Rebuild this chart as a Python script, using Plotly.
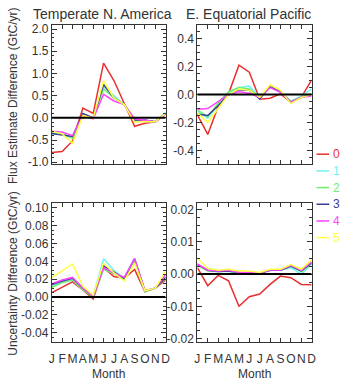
import plotly.graph_objects as go

months = list(range(1, 13))
month_labels = ["J", "F", "M", "A", "M", "J", "J", "A", "S", "O", "N", "D"]
series_names = ["0", "1", "2", "3", "4", "5"]
colors = ["#e8302e", "#70f4f4", "#70ee70", "#3c3c96", "#ff44ff", "#ffff44"]

# Top-left: Temperate N. America, flux estimate difference
na_flux = {
    "0": [-0.78, -0.76, -0.52, 0.22, 0.10, 1.23, 0.84, 0.33, -0.19, -0.12, -0.09, 0.10],
    "1": [-0.36, -0.37, -0.45, 0.07, 0.00, 0.70, 0.50, 0.30, -0.05, -0.06, -0.09, 0.12],
    "2": [-0.34, -0.36, -0.46, 0.09, 0.00, 0.65, 0.45, 0.30, -0.06, -0.07, -0.09, 0.10],
    "3": [-0.35, -0.38, -0.42, 0.10, 0.00, 0.75, 0.45, 0.30, -0.05, -0.05, -0.09, 0.10],
    "4": [-0.30, -0.32, -0.40, 0.05, -0.02, 0.53, 0.38, 0.30, -0.02, -0.05, -0.09, 0.08],
    "5": [-0.30, -0.36, -0.57, 0.05, 0.00, 0.83, 0.45, 0.30, -0.10, -0.08, -0.09, 0.10],
}
# Top-right: E. Equatorial Pacific, flux estimate difference
ep_flux = {
    "0": [-0.145, -0.285, -0.085, 0.005, 0.21, 0.16, -0.033, -0.026, 0.005, -0.055, -0.02, 0.104],
    "1": [-0.12, -0.17, -0.07, 0.01, 0.05, 0.06, -0.02, 0.06, 0.02, -0.05, -0.01, 0.04],
    "2": [-0.11, -0.16, -0.06, 0.02, 0.05, 0.04, -0.02, 0.06, 0.02, -0.05, -0.02, 0.01],
    "3": [-0.14, -0.15, -0.08, 0.00, 0.035, 0.03, -0.03, 0.055, 0.02, -0.055, -0.02, 0.00],
    "4": [-0.105, -0.10, -0.05, 0.00, 0.02, 0.01, -0.02, 0.05, 0.015, -0.055, -0.02, -0.01],
    "5": [-0.13, -0.20, -0.10, 0.00, 0.04, 0.03, -0.02, 0.07, 0.03, -0.065, -0.02, 0.00],
}
# Bottom-left: Temperate N. America, uncertainty difference
na_unc = {
    "0": [0.005, 0.011, 0.017, 0.008, -0.002, 0.033, 0.023, 0.021, 0.031, 0.006, 0.010, 0.019],
    "1": [0.013, 0.017, 0.020, 0.009, 0.001, 0.043, 0.030, 0.021, 0.040, 0.006, 0.010, 0.022],
    "2": [0.011, 0.016, 0.019, 0.008, 0.000, 0.031, 0.026, 0.020, 0.040, 0.006, 0.010, 0.021],
    "3": [0.014, 0.018, 0.021, 0.010, 0.001, 0.035, 0.028, 0.021, 0.043, 0.007, 0.010, 0.022],
    "4": [0.015, 0.019, 0.022, 0.010, 0.001, 0.033, 0.027, 0.022, 0.043, 0.007, 0.010, 0.025],
    "5": [0.022, 0.030, 0.037, 0.012, 0.002, 0.038, 0.027, 0.018, 0.038, 0.007, 0.010, 0.029],
}
# Bottom-right: E. Equatorial Pacific, uncertainty difference
ep_unc = {
    "0": [0.0020, -0.0036, -0.0004, -0.0021, -0.0100, -0.0070, -0.0062, -0.0032, -0.0006, -0.0011, -0.0032, -0.0033],
    "1": [0.0030, 0.0010, 0.0008, 0.0008, 0.0000, 0.0000, 0.0002, 0.0012, 0.0012, 0.0020, 0.0000, 0.0030],
    "2": [0.0028, 0.0010, 0.0008, 0.0010, 0.0003, 0.0003, 0.0002, 0.0012, 0.0012, 0.0025, 0.0008, 0.0032],
    "3": [0.0030, 0.0012, 0.0008, 0.0010, 0.0005, 0.0005, 0.0003, 0.0012, 0.0012, 0.0025, 0.0010, 0.0035],
    "4": [0.0032, 0.0012, 0.0010, 0.0012, 0.0005, 0.0006, 0.0003, 0.0013, 0.0013, 0.0027, 0.0012, 0.0038],
    "5": [0.0050, 0.0018, 0.0012, 0.0015, 0.0010, 0.0010, 0.0005, 0.0015, 0.0015, 0.0030, 0.0015, 0.0045],
}

titles = ["Temperate N. America", "E. Equatorial Pacific"]
ytitles = ["Flux Estimate Difference (GtC/yr)", "Uncertainty Difference (GtC/yr)"]
xtitle = "Month"

y1_ticks = [-1.0, -0.5, 0.0, 0.5, 1.0, 1.5, 2.0]
y1_text = ["-1.0", "-0.5", "0.0", "0.5", "1.0", "1.5", "2.0"]
y2_ticks = [-0.4, -0.2, 0.0, 0.2, 0.4]
y2_text = ["-0.4", "-0.2", "0.0", "0.2", "0.4"]
y3_ticks = [-0.04, -0.02, 0.0, 0.02, 0.04, 0.06, 0.08, 0.10]
y3_text = ["-0.04", "-0.02", "0.00", "0.02", "0.04", "0.06", "0.08", "0.10"]
y4_ticks = [-0.02, -0.01, 0.0, 0.01, 0.02]
y4_text = ["-0.02", "-0.01", "0.00", "0.01", "0.02"]

W, H = 344, 386
def px_x(a, b):
    return [a / W, b / W]
def px_y(top, bottom):
    return [1 - bottom / H, 1 - top / H]

fig = go.Figure()

panels = [
    (na_flux, "x", "y"),
    (ep_flux, "x2", "y2"),
    (na_unc, "x3", "y3"),
    (ep_unc, "x4", "y4"),
]
for data, xa, ya in panels:
    for name, col in zip(series_names, colors):
        fig.add_trace(go.Scatter(x=months, y=data[name], mode="lines",
                                 line=dict(color=col, width=1.5),
                                 xaxis=xa, yaxis=ya, showlegend=False,
                                 hoverinfo="skip"))

# zero lines
for xa, ya in [("x", "y"), ("x2", "y2"), ("x3", "y3"), ("x4", "y4")]:
    fig.add_shape(type="line", xref=xa, yref=ya, x0=1, x1=12, y0=0, y1=0,
                  line=dict(color="black", width=2), layer="above")

axcol = "#333333"
FONT = "Liberation Sans, Arial, sans-serif"
tickfont = dict(family=FONT, size=12, color="#333333")
xtickfont = dict(family=FONT, size=12, color="#333333")

def xaxis(domain, anchor, labels):
    d = dict(domain=domain, anchor=anchor, range=[1, 12],
             tickvals=months, ticktext=month_labels if labels else [""] * 12,
             ticks="inside", ticklen=4, tickcolor=axcol, mirror="ticks",
             showline=True, linecolor=axcol, linewidth=1, showgrid=False,
             zeroline=False, tickfont=xtickfont, tickangle=0)
    if labels:
        d["ticklabelstandoff"] = 6
    return d

def yaxis(domain, anchor, rng, tv, tt, minor):
    return dict(domain=domain, anchor=anchor, range=rng, tickvals=tv, ticktext=tt,
                ticks="inside", ticklen=5, tickcolor=axcol, mirror="ticks",
                showline=True, linecolor=axcol, linewidth=1, showgrid=False,
                zeroline=False, tickfont=tickfont,
                minor=dict(ticks="inside", ticklen=2.5, tickcolor=axcol, dtick=minor, showgrid=False))

dx1 = px_x(50, 166.5)
dx2 = px_x(199, 316)
dyt = px_y(23, 165.5)
dyb = px_y(205, 346)

fig.update_layout(
    width=W, height=H, margin=dict(l=0, r=0, t=0, b=0),
    paper_bgcolor="white", plot_bgcolor="white",
    xaxis=xaxis(dx1, "y", False),
    xaxis2=xaxis(dx2, "y2", False),
    xaxis3=xaxis(dx1, "y3", True),
    xaxis4=xaxis(dx2, "y4", True),
    yaxis=yaxis(dyt, "x", [-1.05, 2.1], y1_ticks, y1_text, 0.1),
    yaxis2=yaxis(dyt, "x2", [-0.5, 0.5], y2_ticks, y2_text, 0.05),
    yaxis3=yaxis(dyb, "x3", [-0.05, 0.105], y3_ticks, y3_text, 0.005),
    yaxis4=yaxis(dyb, "x4", [-0.021, 0.022], y4_ticks, y4_text, 0.0025),
    showlegend=False,
    font=dict(family=FONT, color="#333333"),
)

ann = []
# panel titles
ann.append(dict(text=titles[0], x=102 / W, y=1 - 12 / H, xref="paper", yref="paper",
                showarrow=False, font=dict(size=14, color="#333333"), xanchor="center", yanchor="middle"))
ann.append(dict(text=titles[1], x=251 / W, y=1 - 12 / H, xref="paper", yref="paper",
                showarrow=False, font=dict(size=14, color="#333333"), xanchor="center", yanchor="middle"))
# y titles
ann.append(dict(text=ytitles[0], x=10 / W, y=1 - 96 / H, xref="paper", yref="paper",
                showarrow=False, textangle=-90, font=dict(size=12, color="#333333"),
                xanchor="center", yanchor="middle"))
ann.append(dict(text=ytitles[1], x=10 / W, y=1 - 276 / H, xref="paper", yref="paper",
                showarrow=False, textangle=-90, font=dict(size=12, color="#333333"),
                xanchor="center", yanchor="middle"))
# x titles
for cx in [108, 257]:
    ann.append(dict(text=xtitle, x=cx / W, y=1 - 379 / H, xref="paper", yref="paper",
                    showarrow=False, font=dict(size=12, color="#333333"),
                    xanchor="center", yanchor="middle"))

# legend
leg_y0 = 155
leg_dy = 17
for i, (name, col) in enumerate(zip(series_names, colors)):
    yy = 1 - (leg_y0 + i * leg_dy) / H
    fig.add_shape(type="line", xref="paper", yref="paper", x0=321 / W, x1=334 / W,
                  y0=yy, y1=yy, line=dict(color=col, width=1.5))
    ann.append(dict(text=name, x=336 / W, y=yy, xref="paper", yref="paper",
                    showarrow=False, font=dict(size=12, color=col),
                    xanchor="left", yanchor="middle"))

fig.update_layout(annotations=ann)
fig.write_html("out.html")
